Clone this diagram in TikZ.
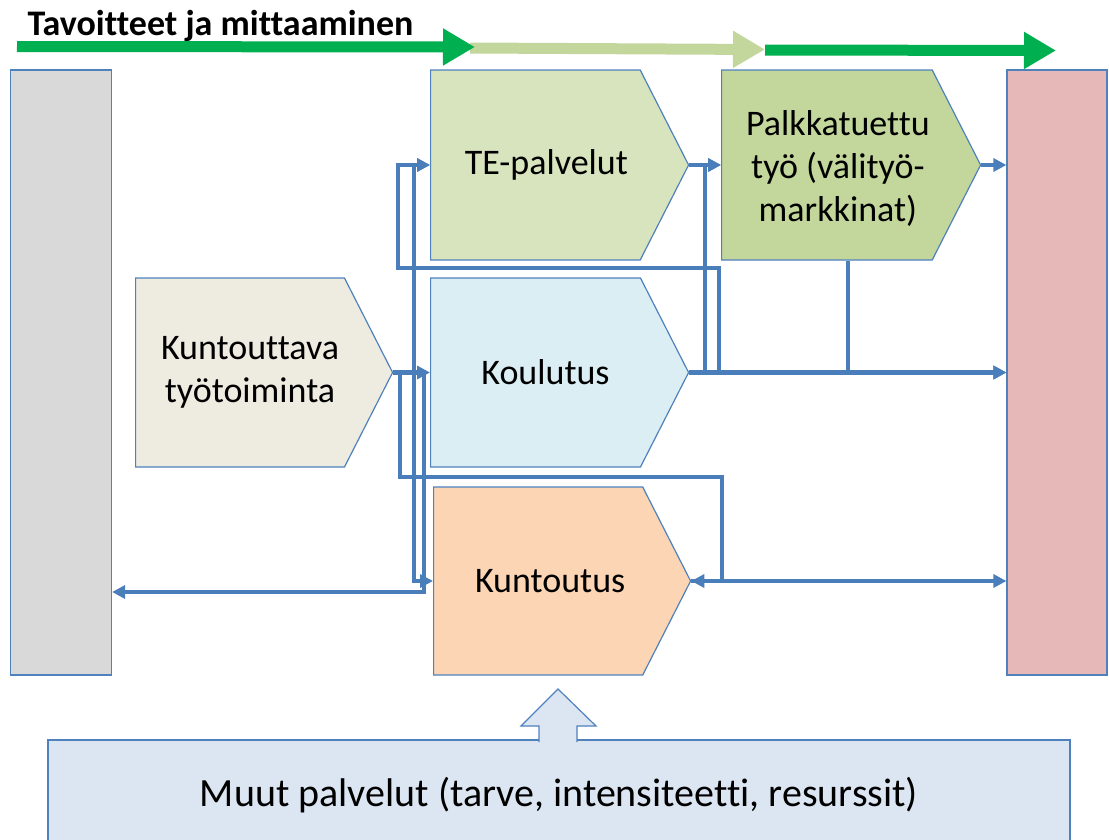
\documentclass[tikz,border=0pt]{standalone}
\usepackage{fontspec}
\setmainfont{Carlito}[Ligatures=CommonOff]
\usetikzlibrary{shapes.symbols,arrows.meta}

\definecolor{edgeblue}{HTML}{4F81BD}
\definecolor{linkblue}{HTML}{4A7EBB}
\definecolor{barstart}{HTML}{D9D9D9}
\definecolor{barend}{HTML}{E6B9B8}
\definecolor{tefill}{HTML}{D7E4BD}
\definecolor{ptfill}{HTML}{C3D69B}
\definecolor{ktfill}{HTML}{EEECE1}
\definecolor{kofill}{HTML}{DBEEF4}
\definecolor{kufill}{HTML}{FCD5B5}
\definecolor{mpfill}{HTML}{DCE6F2}
\definecolor{goalgreen}{HTML}{00B050}

\begin{document}
\begin{tikzpicture}[x=1pt,y=-1pt,
  chev/.style={signal,signal to=east,signal pointer angle=126,draw=edgeblue,
    line width=1.2pt,minimum width=258pt,minimum height=190pt,inner sep=0pt,
    anchor=west},
  txt/.style={align=center,inner sep=0pt,font=\fontsize{36}{43}\selectfont},
  bar/.style={draw=edgeblue,line width=1.2pt,minimum width=101pt,
    minimum height=605pt,inner sep=0pt},
  link/.style={draw=linkblue,line width=4.3pt,-{Triangle[length=13pt,width=13pt]}},
  bigarrow/.style={line width=11pt,-{Triangle[length=32pt,width=35pt]}}]
  \useasboundingbox (0,0) rectangle (1109,839);

  % goals and measuring
  \node[anchor=base west,font=\bfseries\fontsize{36}{36}\selectfont] (TI) at (24,35)
    {Tavoitteet ja mittaaminen};
  \coordinate (G1a) at (17,46.5);
  \coordinate (G1b) at (475,47);
  \coordinate (G2a) at (470,48);
  \coordinate (G2b) at (765,49.5);
  \coordinate (G3a) at (765,50);
  \coordinate (G3b) at (1056,50.5);
  \draw[bigarrow,ptfill] (G2a) -- (G2b);
  \draw[bigarrow,goalgreen] (G1a) -- (G1b);
  \draw[bigarrow,goalgreen] (G3a) -- (G3b);

  % side bars
  \node[bar,fill=barstart] (AL) at (61,372.5) {};
  \node[bar,fill=barend,minimum width=100pt] (LO) at (1057,372.5) {};

  % services
  \node[chev,fill=tefill] (TE) at (430,165) {};
  \node[chev,fill=ptfill,minimum width=259pt] (PT) at (721,165) {};
  \node[chev,fill=ktfill,minimum width=257pt,minimum height=189pt] (KT) at (135,372.5) {};
  \node[chev,fill=kofill,minimum height=189pt] (KO) at (430,372.5) {};
  \node[chev,fill=kufill,minimum width=257pt,minimum height=188pt] (KU) at (433,581) {};

  \node[txt] (TEt) at ([xshift=11pt]TE.center) {TE-palvelut};
  \node[txt] (PTt) at ([xshift=11pt,yshift=-3pt]PT.center)
    {Palkkatuettu\\työ (välityö-\\markkinat)};
  \node[txt] (KTt) at ([xshift=10pt]KT.center) {Kuntouttava\\työtoiminta};
  \node[txt] (KOt) at ([xshift=10pt]KO.center) {Koulutus};
  \node[txt] (KUt) at ([xshift=12pt]KU.center) {Kuntoutus};

  % other services
  \node[draw=edgeblue,line width=1.2pt,fill=mpfill,minimum width=1022pt,
    minimum height=110pt,font=\fontsize{40}{40}\selectfont] (MP) at (559,795)
    {Muut palvelut (tarve, intensiteetti, resurssit)};
  \filldraw[draw=edgeblue,line width=1.2pt,fill=mpfill]
    (539,742) -- (539,726) -- (521,726) -- (558,689) -- (596,726)
    -- (577,726) -- (577,742);

  % connectors
  \coordinate (L1) at (722,477);
  \coordinate (L2) at (398,268);
  \draw[link] (KT.east) -- (KO.west);
  \draw[link] (KT.east) -- ++(21,0) |- (TE.west);
  \draw[link] (KT.east) -- ++(21,0) |- (KU.west);
  \draw[link] (KT.east) -- ++(31,0) |- (AL.east |- 0,592);
  \draw[link] (KT.east) -- ++(7,0) |- (L1) |- (KU.east);
  \draw[link] (KO.east) -- ++(30,0) |- (L2) |- (TE.west);
  \draw[link] (KO.east) -- ++(16,0) |- (PT.west);
  \draw[link] (TE.east) -- (PT.west);
  \draw[link] (KO.east) -- (LO.west |- KO.east);
  \draw[link] (PT.east) -- (LO.west |- PT.east);
  \draw[link] ([xshift=21pt]PT.south) |- (LO.west |- KO.east);
  \draw[link] (KU.east) -- (LO.west |- KU.east);
\end{tikzpicture}
\end{document}
